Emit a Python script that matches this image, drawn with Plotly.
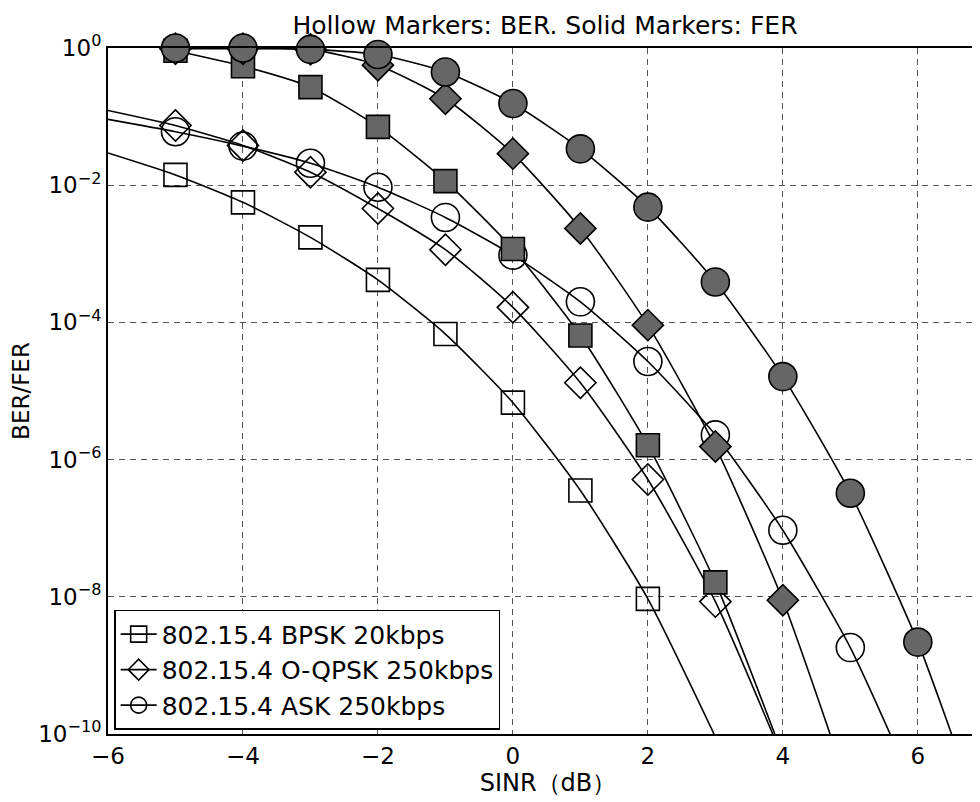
import plotly.graph_objects as go

# ---------------- data (log10 values) ----------------
snr_bpsk_ber = [-5, -4, -3, -2, -1, 0, 1, 2]
log_bpsk_ber = [-1.85, -2.25, -2.76, -3.38, -4.17, -5.17, -6.45, -8.03]
curve_bpsk_ber_x = [-6] + snr_bpsk_ber + [2.98]
curve_bpsk_ber_y = [-1.53] + log_bpsk_ber + [-10.0]

snr_oqpsk_ber = [-5, -4, -3, -2, -1, 0, 1, 2, 3]
log_oqpsk_ber = [-1.13, -1.42, -1.81, -2.34, -2.94, -3.78, -4.88, -6.29, -8.07]
curve_oqpsk_ber_x = [-6] + snr_oqpsk_ber + [3.85]
curve_oqpsk_ber_y = [-0.91] + log_oqpsk_ber + [-10.0]

snr_ask_ber = [-5, -4, -3, -2, -1, 0, 1, 2, 3, 4, 5]
log_ask_ber = [-1.22, -1.43, -1.68, -2.03, -2.47, -3.02, -3.70, -4.57, -5.64, -7.03, -8.74]
curve_ask_ber_x = [-6] + snr_ask_ber + [5.59]
curve_ask_ber_y = [-1.04] + log_ask_ber + [-10.0]

snr_bpsk_fer = [-5, -4, -3, -2, -1, 0, 1, 2, 3]
log_bpsk_fer = [-0.04, -0.265, -0.571, -1.15, -1.94, -2.93, -4.19, -5.79, -7.79]
curve_bpsk_fer_x = snr_bpsk_fer + [3.88]
curve_bpsk_fer_y = log_bpsk_fer + [-10.0]

snr_oqpsk_fer = [-5, -4, -3, -2, -1, 0, 1, 2, 3, 4]
log_oqpsk_fer = [-0.01, -0.01, -0.02, -0.25, -0.74, -1.54, -2.63, -4.04, -5.81, -8.05]
curve_oqpsk_fer_x = snr_oqpsk_fer + [4.70]
curve_oqpsk_fer_y = log_oqpsk_fer + [-10.0]

snr_ask_fer = [-5, -4, -3, -2, -1, 0, 1, 2, 3, 4, 5, 6]
log_ask_fer = [0.0, 0.0, -0.02, -0.095, -0.35, -0.81, -1.47, -2.32, -3.41, -4.79, -6.49, -8.66]
curve_ask_fer_x = snr_ask_fer + [6.50]
curve_ask_fer_y = log_ask_fer + [-10.0]

legend_names = ["802.15.4 BPSK 20kbps", "802.15.4 O-QPSK 250kbps", "802.15.4 ASK 250kbps"]
x_ticks = [-6, -4, -2, 0, 2, 4, 6]
y_tick_exp = [0, -2, -4, -6, -8, -10]

# ---------------- figure ----------------
def p10(v):
    return [10 ** a for a in v]

FONT = "DejaVu Sans"
GRAY = "#666666"
fig = go.Figure()

series = [
    # (curve x, curve y, pts x, pts y, symbol, size, solid)
    (curve_bpsk_ber_x, curve_bpsk_ber_y, snr_bpsk_ber, log_bpsk_ber, "square", 23, False),
    (curve_oqpsk_ber_x, curve_oqpsk_ber_y, snr_oqpsk_ber, log_oqpsk_ber, "diamond", 24, False),
    (curve_ask_ber_x, curve_ask_ber_y, snr_ask_ber, log_ask_ber, "circle", 28, False),
    (curve_bpsk_fer_x, curve_bpsk_fer_y, snr_bpsk_fer, log_bpsk_fer, "square", 23, True),
    (curve_oqpsk_fer_x, curve_oqpsk_fer_y, snr_oqpsk_fer, log_oqpsk_fer, "diamond", 24, True),
    (curve_ask_fer_x, curve_ask_fer_y, snr_ask_fer, log_ask_fer, "circle", 28, True),
]

# curves first
for cx, cy, px, py, sym, sz, solid in series:
    fig.add_trace(go.Scatter(x=cx, y=p10(cy), mode="lines",
                             line=dict(color="black", width=1.6, shape="spline", smoothing=0.6),
                             showlegend=False, hoverinfo="skip"))
# markers
for cx, cy, px, py, sym, sz, solid in series:
    fig.add_trace(go.Scatter(x=px, y=p10(py), mode="markers", cliponaxis=False,
                             marker=dict(symbol=sym, size=sz,
                                         color=GRAY if solid else "rgba(0,0,0,0)",
                                         line=dict(color="black", width=1.6)),
                             showlegend=False))

# legend entries
for name, sym, sz in zip(legend_names, ["square", "diamond", "circle"], [23, 24, 28]):
    fig.add_trace(go.Scatter(x=[None], y=[None], mode="lines+markers", name=name,
                             line=dict(color="black", width=1.6),
                             marker=dict(symbol=sym, size=sz, color="rgba(0,0,0,0)",
                                         line=dict(color="black", width=1.6))))

# the page body has an 8px margin, so figure coordinates are shifted by 8px
fig.update_layout(
    width=980, height=802,
    margin=dict(l=100, r=0, t=39.5, b=76, autoexpand=False),
    paper_bgcolor="white", plot_bgcolor="white",
    font=dict(family=FONT, size=22, color="black"),
    title=dict(text="Hollow Markers: BER. Solid Markers: FER", x=537 / 980, xanchor="center",
               xref="container", y=1 - 17 / 802, yanchor="middle", yref="container",
               font=dict(size=25), automargin=False),
    legend=dict(x=0.007, y=0.006, xanchor="left", yanchor="bottom",
                bgcolor="white", bordercolor="black", borderwidth=1.5,
                font=dict(size=25), tracegroupgap=0, itemwidth=36),
    showlegend=True,
)
fig.update_xaxes(range=[-6, 7.04], tickvals=x_ticks, automargin=False,
                 ticktext=[("−" + str(-t)) if t < 0 else str(t) for t in x_ticks],
                 showline=True, linecolor="black", linewidth=2, mirror=True,
                 showgrid=True, gridcolor="#555555", griddash="6px,5px", gridwidth=1,
                 zeroline=False, ticks="", tickfont=dict(size=23),
                 title=dict(text="SINR（dB）", font=dict(size=24), standoff=2))
fig.update_yaxes(type="log", range=[-10, 0], tickvals=[10 ** e for e in y_tick_exp], automargin=False,
                 ticktext=["10<sup>" + (("−" + str(-e)) if e < 0 else str(e)) + "</sup>" for e in y_tick_exp],
                 showline=True, linecolor="black", linewidth=2, mirror=False,
                 showgrid=True, gridcolor="#555555", griddash="6px,5px", gridwidth=1,
                 zeroline=False, ticks="", tickfont=dict(size=23),
                 title=dict(text="BER/FER", font=dict(size=23), standoff=6))

fig.write_html("out.html")
